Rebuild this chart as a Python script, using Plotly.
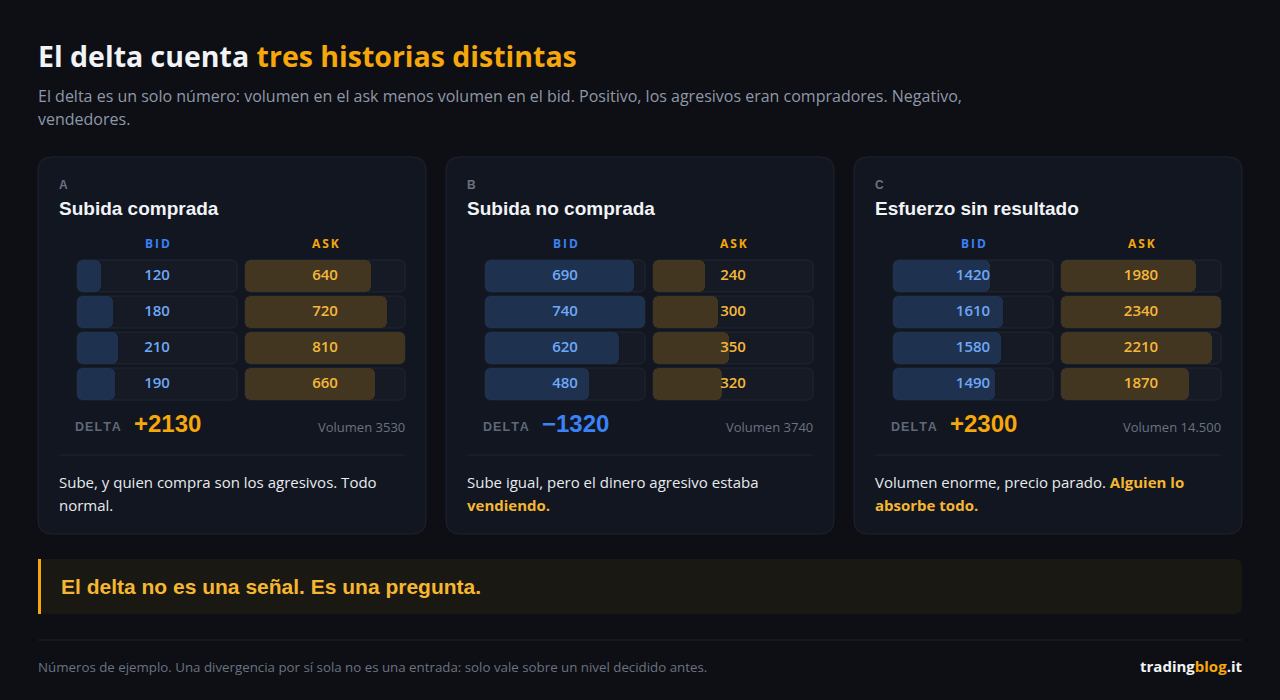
import plotly.graph_objects as go

W, H = 1280, 700

# --- data ---------------------------------------------------------------
CARD_LETTERS = ["A", "B", "C"]
CARD_TITLES = ["Subida comprada", "Subida no comprada", "Esfuerzo sin resultado"]

BID_A = [120, 180, 210, 190]
ASK_A = [640, 720, 810, 660]
BID_B = [690, 740, 620, 480]
ASK_B = [240, 300, 350, 320]
BID_C = [1420, 1610, 1580, 1490]
ASK_C = [1980, 2340, 2210, 1870]

BIDS = [BID_A, BID_B, BID_C]
ASKS = [ASK_A, ASK_B, ASK_C]

ORANGE_TXT = "#f5b731"
DESC_LINES = [
    ["Sube, y quien compra son los agresivos. Todo", "normal."],
    ["Sube igual, pero el dinero agresivo estaba",
     f"<span style='color:{ORANGE_TXT}'><b>vendiendo.</b></span>"],
    [f"Volumen enorme, precio parado. <span style='color:{ORANGE_TXT}'><b>Alguien lo</b></span>",
     f"<span style='color:{ORANGE_TXT}'><b>absorbe todo.</b></span>"],
]

TITLE = "El delta cuenta <span style='color:#f5a70b'>tres historias distintas</span>"
SUBTITLE = ["El delta es un solo número: volumen en el ask menos volumen en el bid. Positivo, los agresivos eran compradores. Negativo,",
            "vendedores."]
BANNER = "El delta no es una señal. Es una pregunta."
FOOTNOTE = "Números de ejemplo. Una divergencia por sí sola no es una entrada: solo vale sobre un nivel decidido antes."

# --- colours / fonts ----------------------------------------------------
BG = "#0d0f14"
CARD_BG = "#111620"
CARD_BORDER = "#1e2430"
TRACK_BG = "#161a24"
TRACK_BORDER = "#212733"
BID_FILL = "#1e3250"
ASK_FILL = "#423620"
BID_TXT = "#6ea8f7"
ASK_TXT = "#f5b73b"
BLUE = "#3b82f6"
ORANGE = "#f5a70b"
GREY = "#6b7280"
WHITE = "#f1f3f6"
SANS = "Open Sans"
ARIAL = "Liberation Sans"


def px(x):
    return x / W


def py(y):
    return 1 - y / H


def round_rect(x0, y0, x1, y1, r):
    # rounded rectangle path in paper coords from pixel values
    pts = [
        f"M{px(x0 + r)},{py(y0)}", f"L{px(x1 - r)},{py(y0)}",
        f"Q{px(x1)},{py(y0)} {px(x1)},{py(y0 + r)}", f"L{px(x1)},{py(y1 - r)}",
        f"Q{px(x1)},{py(y1)} {px(x1 - r)},{py(y1)}", f"L{px(x0 + r)},{py(y1)}",
        f"Q{px(x0)},{py(y1)} {px(x0)},{py(y1 - r)}", f"L{px(x0)},{py(y0 + r)}",
        f"Q{px(x0)},{py(y0)} {px(x0 + r)},{py(y0)}", "Z",
    ]
    return " ".join(pts)


def fmt_es(n):
    return f"{n:,}".replace(",", ".") if n >= 10000 else str(n)


annotations = []
shapes = []


def note(x, y, text, size, color, family=SANS, anchor="left", weight="normal"):
    annotations.append(dict(
        x=px(x), y=py(y), xref="paper", yref="paper", text=text, showarrow=False,
        xanchor=anchor, yanchor="middle", borderpad=0, borderwidth=0,
        font=dict(family=family, size=size, color=color, weight=weight),
    ))


fig = go.Figure()

# header
note(38, 56, TITLE, 28.5, WHITE, weight="bold")
note(38, 96, SUBTITLE[0], 16, "#8f98a8")
note(38, 119, SUBTITLE[1], 16, "#8f98a8")

ROW_PX = 36
BAR_W = 32 / ROW_PX
TRACK_W = 160
TOP = 258

axis_n = 0
for i in range(3):
    ox = 38 + i * 408
    bids, asks = BIDS[i], ASKS[i]
    cmax = max(bids + asks)
    delta = sum(asks) - sum(bids)
    volume = sum(asks) + sum(bids)

    shapes.append(dict(type="path", path=round_rect(ox, 157, ox + 388, 534, 14),
                       xref="paper", yref="paper", fillcolor=CARD_BG,
                       line=dict(color=CARD_BORDER, width=1), layer="below"))

    note(ox + 21, 185, f"<b>{CARD_LETTERS[i]}</b>", 12, GREY, family=ARIAL)
    note(ox + 21, 208, f"<b>{CARD_TITLES[i]}</b>", 19, WHITE, family=ARIAL)

    for col, (vals, fill, txt, head, hcol, left) in enumerate([
        (bids, BID_FILL, BID_TXT, "BID", BLUE, ox + 39),
        (asks, ASK_FILL, ASK_TXT, "ASK", ORANGE, ox + 207),
    ]):
        axis_n += 1
        sfx = "" if axis_n == 1 else str(axis_n)
        pad = cmax / TRACK_W
        fig.update_layout({
            f"xaxis{sfx}": dict(domain=[px(left - 1), px(left + TRACK_W + 1)],
                                range=[-pad, cmax + pad], visible=False,
                                fixedrange=True, anchor=f"y{sfx}"),
            f"yaxis{sfx}": dict(domain=[py(TOP + 4 * ROW_PX), py(TOP)],
                                range=[3.5, -0.5], visible=False,
                                fixedrange=True, anchor=f"x{sfx}"),
        })
        rows = list(range(len(vals)))
        # tracks drawn in axis coords
        rx = 6 * cmax / TRACK_W
        ry = 6 / ROW_PX
        for r in rows:
            y0, y1 = r - BAR_W / 2, r + BAR_W / 2
            x0, x1 = 0, cmax
            path = (f"M{x0 + rx},{y0} L{x1 - rx},{y0} Q{x1},{y0} {x1},{y0 + ry} "
                    f"L{x1},{y1 - ry} Q{x1},{y1} {x1 - rx},{y1} L{x0 + rx},{y1} "
                    f"Q{x0},{y1} {x0},{y1 - ry} L{x0},{y0 + ry} Q{x0},{y0} {x0 + rx},{y0} Z")
            shapes.append(dict(type="path", path=path, xref=f"x{sfx}", yref=f"y{sfx}",
                               fillcolor=TRACK_BG, line=dict(color=TRACK_BORDER, width=1),
                               layer="below"))
        # fill bars: drawn from value back to zero so the rounded end sits on the left
        fig.add_trace(go.Bar(
            x=[-v for v in vals], y=rows, base=vals, orientation="h", width=BAR_W,
            marker=dict(color=fill, cornerradius=6, line=dict(width=0)),
            xaxis=f"x{sfx}", yaxis=f"y{sfx}", hoverinfo="skip", showlegend=False,
        ))
        fig.add_trace(go.Scatter(
            x=[cmax / 2] * len(vals), y=rows, mode="text", text=[str(v) for v in vals],
            textposition="middle center",
            textfont=dict(family=SANS, size=15, color=txt, weight=600),
            xaxis=f"x{sfx}", yaxis=f"y{sfx}", hoverinfo="skip", showlegend=False,
        ))
        note(left + TRACK_W / 2, 243, "<b>" + "\u2009".join(head) + "</b>", 12, hcol,
             anchor="center")

    note(ox + 37, 427, "<b>" + "\u200a".join("DELTA") + "</b>", 12.5, "#5f6878", family=ARIAL)
    dtxt = f"+{delta}" if delta > 0 else f"\u2212{abs(delta)}"
    note(ox + 96, 423, f"<b>{dtxt}</b>", 24, ORANGE if delta > 0 else BLUE, family=ARIAL)
    note(ox + 367, 427, f"Volumen {fmt_es(volume)}", 13, GREY, anchor="right")

    shapes.append(dict(type="line", x0=px(ox + 21), x1=px(ox + 367), y0=py(455), y1=py(455),
                       xref="paper", yref="paper", line=dict(color=CARD_BORDER, width=1)))
    note(ox + 21, 482, DESC_LINES[i][0], 15, "#e8eaee")
    note(ox + 21, 505, DESC_LINES[i][1], 15, "#e8eaee")

# banner
shapes.append(dict(type="path", path=round_rect(38, 559, 1242, 614, 8), xref="paper",
                   yref="paper", fillcolor="#1a1812", line=dict(width=0), layer="below"))
shapes.append(dict(type="rect", x0=px(38), x1=px(41), y0=py(559), y1=py(614),
                   xref="paper", yref="paper", fillcolor=ORANGE, line=dict(width=0)))
note(61, 586, f"<b>{BANNER}</b>", 21, ORANGE_TXT, family=ARIAL)

# footer
shapes.append(dict(type="line", x0=px(38), x1=px(1242), y0=py(640), y1=py(640),
                   xref="paper", yref="paper", line=dict(color="#1c212b", width=1)))
note(38, 667, FOOTNOTE, 13.3, GREY)
note(1242, 666, f"<b>trading<span style='color:{ORANGE}'>blog</span>.it</b>", 15, WHITE,
     anchor="right")

fig.update_layout(
    width=W, height=H, margin=dict(l=0, r=0, t=0, b=0),
    paper_bgcolor=BG, plot_bgcolor="rgba(0,0,0,0)",
    showlegend=False, annotations=annotations, shapes=shapes,
    bargap=0, hovermode=False,
)

fig.write_html(
    "out.html",
    config={"displayModeBar": False},
    post_script="document.body.style.margin='0';document.body.style.background='#0d0f14';"
                "document.body.style.overflow='hidden';",
)
